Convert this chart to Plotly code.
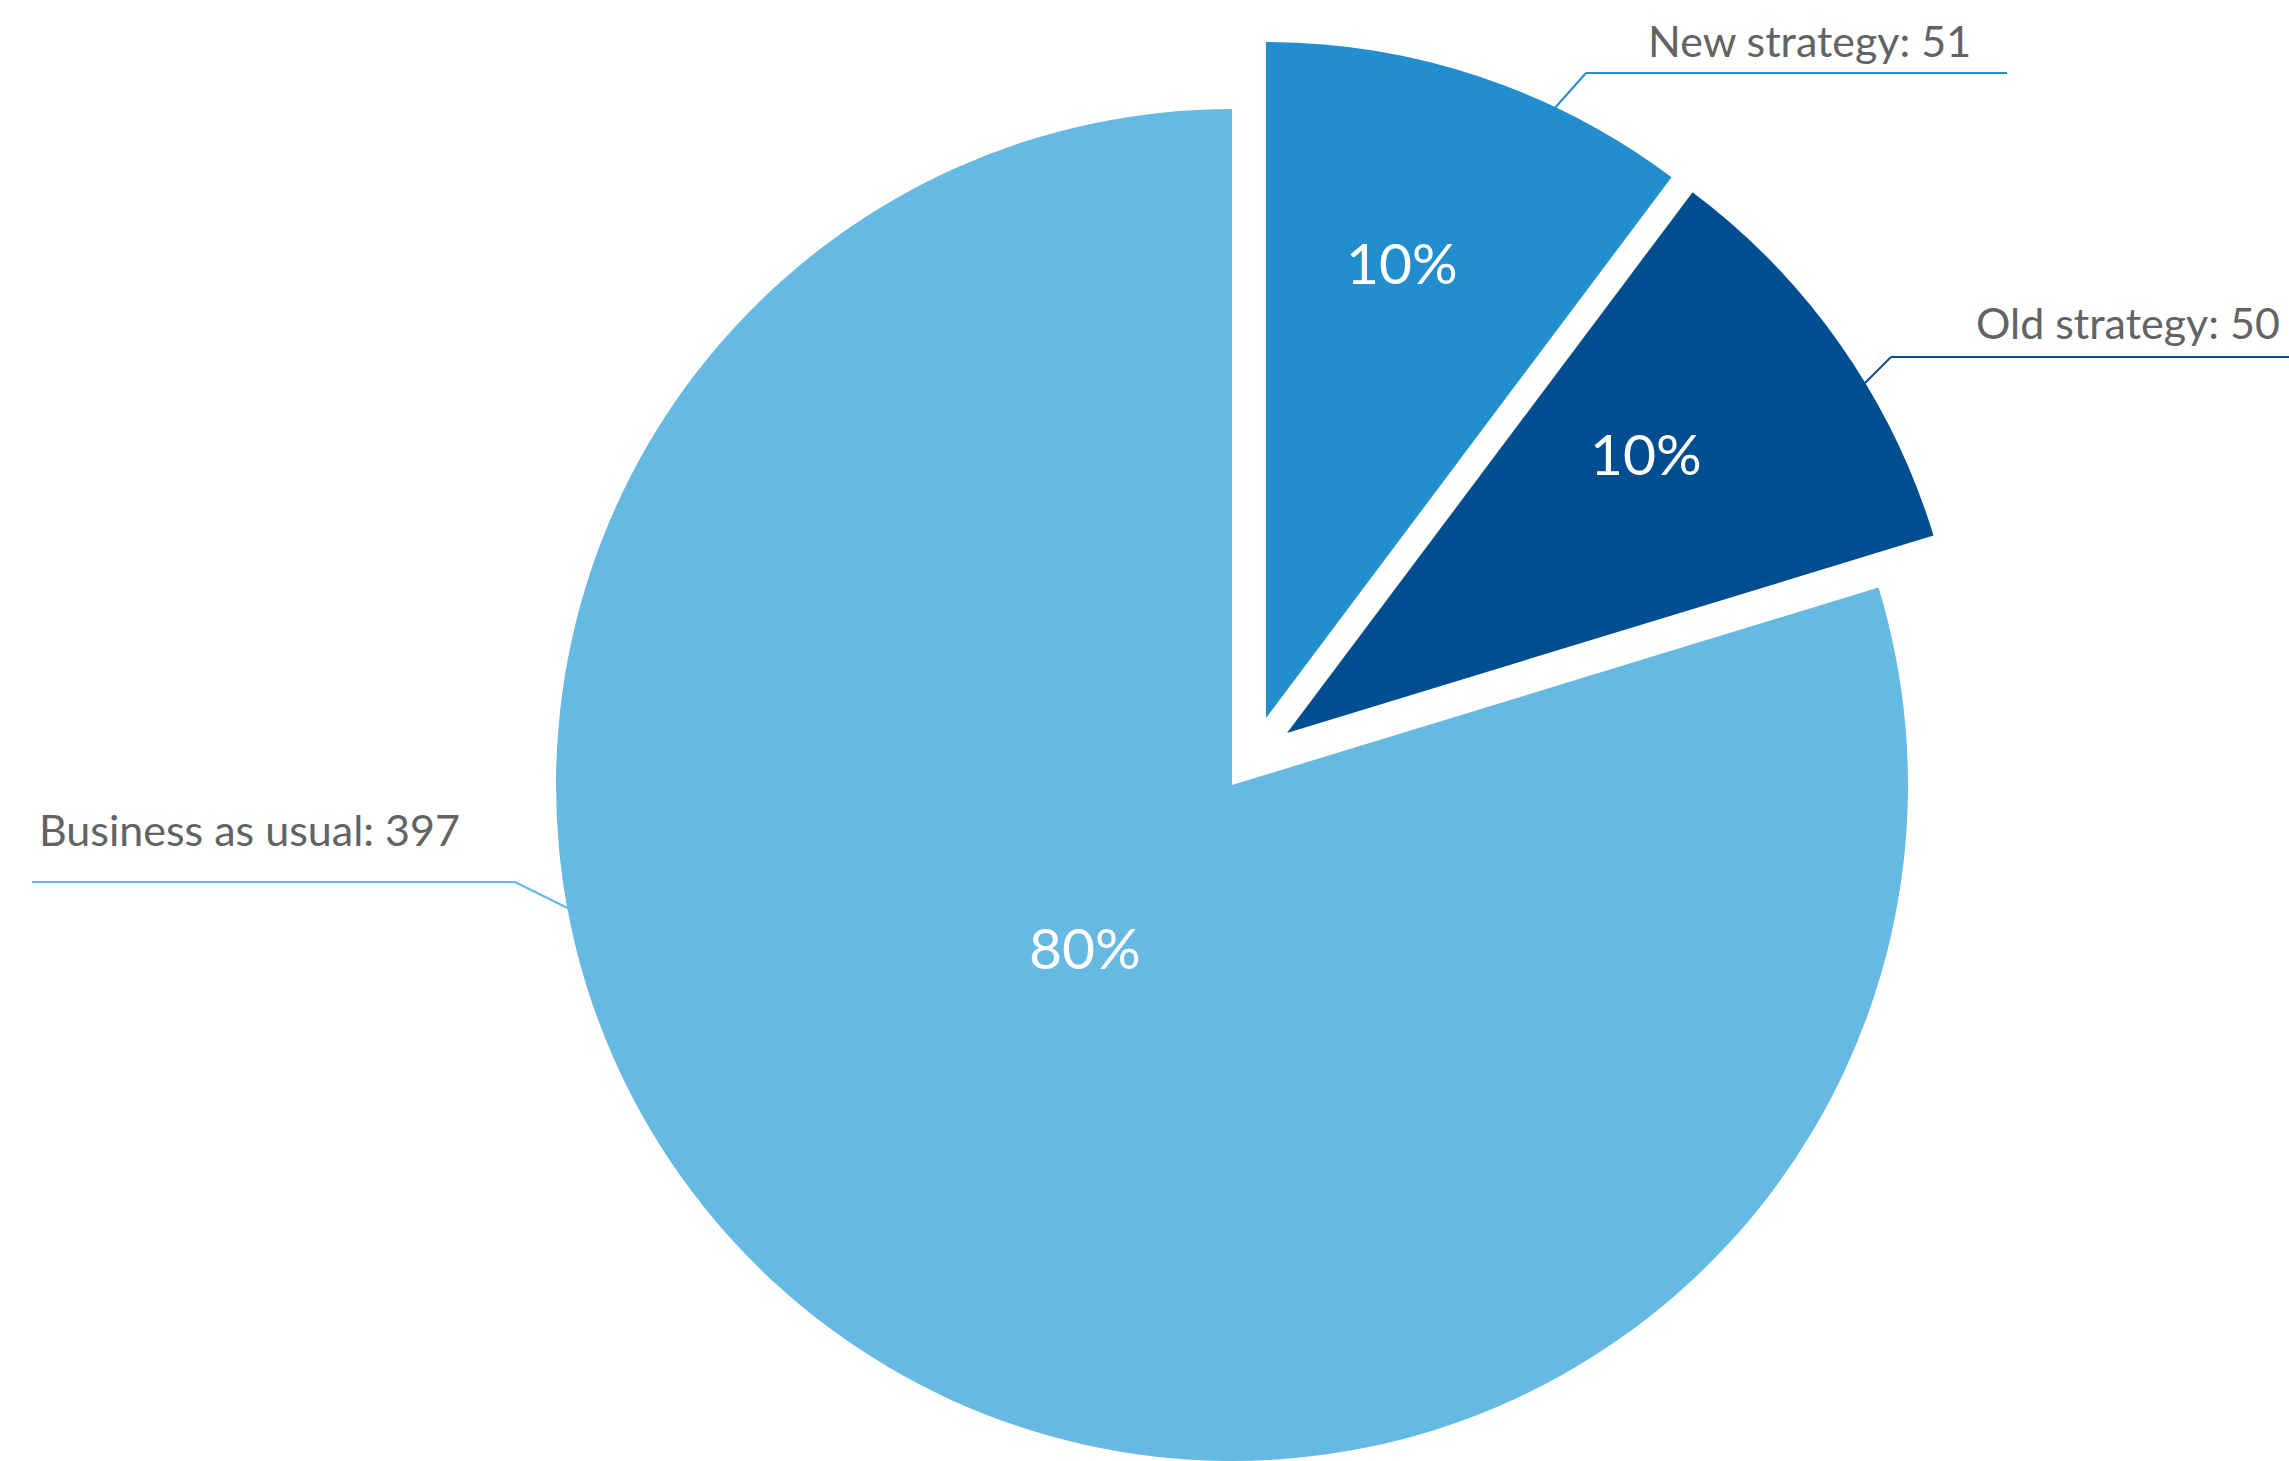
import math
import plotly.graph_objects as go

# ---------------- data ----------------
CATEGORIES = ["New strategy", "Old strategy", "Business as usual"]
VALUES = [51, 50, 397]

# ---------------- style ----------------
W, H = 2289, 1461
COLORS = ["#228ECE", "#004E8F", "#66B9E3"]
LABEL_COLOR = "#636363"
FONT = "Lato"
R_PX = 676                      # pie radius in px
CENTER = (1232, 785)            # pie centre in px (from top-left)
EXPLODE = [(34, -67), (55, -52), (0, 0)]   # exploded-slice offsets, px
PCT_RADIUS = [0.704, 0.673, 0.324]         # inside-label radius fraction
PCT_SPAN_POS = [0.45, 0.42, 0.52]          # inside-label position along slice span
# outside label layout (px): text centre, underline y, underline x-range, leader end
LABEL_LAYOUT = [
    dict(tx=1809, ty=41, uy=73, ux=(1586, 2007), end=(1537, 128)),
    dict(tx=2128, ty=323, uy=357, ux=(1891, 2289), end=(1852, 396)),
    dict(tx=249, ty=830, uy=882, ux=(32, 515), end=(622, 935)),
]


def px2paper(x, y):
    return x / W, 1 - y / H


total = sum(VALUES)
fig = go.Figure()

start = 0.0
for i, (cat, val) in enumerate(zip(CATEGORIES, VALUES)):
    cx = CENTER[0] + EXPLODE[i][0]
    cy = CENTER[1] + EXPLODE[i][1]
    x0, x1 = (cx - R_PX) / W, (cx + R_PX) / W
    y0, y1 = 1 - (cy + R_PX) / H, 1 - (cy - R_PX) / H
    clamp = lambda v: min(1.0, max(0.0, v))
    cols = [COLORS[j] if j == i else "rgba(0,0,0,0)" for j in range(len(VALUES))]
    fig.add_trace(go.Pie(
        labels=CATEGORIES, values=VALUES, sort=False, direction="clockwise",
        rotation=0, marker=dict(colors=cols, line=dict(width=0)),
        textinfo="none", hoverinfo="skip", showlegend=False,
        domain=dict(x=[clamp(x0), clamp(x1)], y=[clamp(y0), clamp(y1)]),
    ))

    # percentage label inside slice
    frac = val / total
    ang = (start + frac * PCT_SPAN_POS[i]) * 2 * math.pi
    rr = PCT_RADIUS[i] * R_PX
    px_, py_ = cx + rr * math.sin(ang), cy - rr * math.cos(ang)
    ax, ay = px2paper(px_, py_)
    fig.add_annotation(x=ax, y=ay, xref="paper", yref="paper",
                       text=f"{round(frac * 100)}%", showarrow=False,
                       xanchor="center", yanchor="middle",
                       font=dict(family=FONT, size=57, color="white"))
    start += frac

    # outside label + leader line
    L = LABEL_LAYOUT[i]
    tx, ty = px2paper(L["tx"], L["ty"])
    fig.add_annotation(x=tx, y=ty, xref="paper", yref="paper",
                       text=f"{cat}: {val}", showarrow=False,
                       xanchor="center", yanchor="middle",
                       font=dict(family=FONT, size=43, color=LABEL_COLOR))
    ux0, uy0 = px2paper(L["ux"][0], L["uy"])
    ux1, _ = px2paper(L["ux"][1], L["uy"])
    corner = L["ux"][1] if i == 2 else L["ux"][0]
    cxp, cyp = px2paper(corner, L["uy"])
    ex, ey = px2paper(*L["end"])
    fig.add_shape(type="line", xref="paper", yref="paper",
                  x0=ux0, y0=uy0, x1=ux1, y1=uy0,
                  line=dict(color=COLORS[i], width=2))
    fig.add_shape(type="line", xref="paper", yref="paper",
                  x0=cxp, y0=cyp, x1=ex, y1=ey,
                  line=dict(color=COLORS[i], width=2))

fig.update_layout(width=W, height=H, margin=dict(l=0, r=0, t=0, b=0),
                  paper_bgcolor="white", plot_bgcolor="white")
fig.write_html("out.html")
